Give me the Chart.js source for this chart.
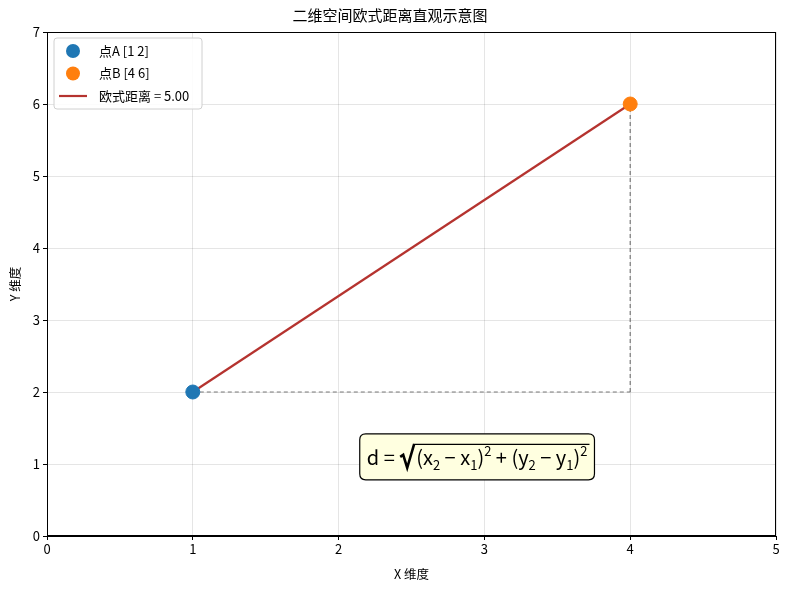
<!DOCTYPE html>
<html>
<head>
<meta charset="utf-8">
<script src="https://cdn.jsdelivr.net/npm/chart.js@4.4.0/dist/chart.umd.min.js"></script>
<style>
  html,body{margin:0;padding:0;background:#fff;}
  #wrap{width:790px;height:590px;}
</style>
</head>
<body>
<div id="wrap"><canvas id="c" width="790" height="590"></canvas></div>
<script>
// data
const pointA=[1,2];
const pointB=[4,6];
const distLabel='欧式距离 = 5.00';
const xTicks=[0,1,2,3,4,5];
const yTicks=[0,1,2,3,4,5,6,7];
const formulaAt=[2.95,1.1];

const FONT='"Noto Sans CJK SC","Noto Sans",sans-serif';
Chart.defaults.font.family=FONT;
Chart.defaults.color='#000';

// frame, legend and formula box
const extras={
  id:'extras',
  afterDraw(chart){
    const {ctx,chartArea:a,scales:{x,y}}=chart;
    ctx.save();
    ctx.strokeStyle='#000'; ctx.lineWidth=1;
    ctx.strokeRect(a.left+0.5,a.top+0.5,a.right-a.left-1,a.bottom-a.top-1);

    // legend
    const lx=a.left+7, ly=a.top+6, lw=148, lh=71;
    roundRect(ctx,lx,ly,lw,lh,3);
    ctx.fillStyle='rgba(255,255,255,0.85)'; ctx.fill();
    ctx.strokeStyle='#d0d0d0'; ctx.stroke();
    const items=chart.data.datasets.filter(d=>d.legend).sort((p,q)=>p.legend-q.legend);
    ctx.font='13px '+FONT; ctx.textBaseline='middle'; ctx.textAlign='left';
    items.forEach((d,i)=>{
      const cy=ly+13+i*22.5, cx=lx+19;
      if(d.showLine){
        ctx.strokeStyle=d.borderColor; ctx.lineWidth=2.2;
        ctx.beginPath(); ctx.moveTo(lx+5,cy); ctx.lineTo(lx+33,cy); ctx.stroke();
      }else{
        ctx.fillStyle=d.backgroundColor;
        ctx.beginPath(); ctx.arc(cx,cy,7,0,Math.PI*2); ctx.fill();
      }
      ctx.fillStyle='#000'; ctx.fillText(d.label,lx+45,cy);
    });

    // formula
    const fx=x.getPixelForValue(formulaAt[0]), fy=y.getPixelForValue(formulaAt[1]);
    const big='20px '+FONT, small='13px '+FONT;
    const parts=[['d',big,0],[' = ',big,0],['RAD',big,0],['(x',big,0],['2',small,5],[' − x',big,0],['1',small,5],[')',big,0],['2',small,-9],[' + (y',big,0],['2',small,5],[' − y',big,0],['1',small,5],[')',big,0],['2',small,-9]];
    let w=0;
    parts.forEach(p=>{ if(p[0]==='RAD'){p.w=17;} else {ctx.font=p[1]; p.w=ctx.measureText(p[0]).width;} w+=p.w; });
    const bw=w+14, bh=46;
    roundRect(ctx,fx-bw/2,fy-bh/2,bw,bh,6);
    ctx.fillStyle='#ffffe0'; ctx.fill();
    ctx.strokeStyle='#000'; ctx.lineWidth=1.2; ctx.stroke();
    let px=fx-w/2; const base=fy+8;
    ctx.textBaseline='alphabetic'; ctx.fillStyle='#000';
    parts.forEach(p=>{
      if(p[0]==='RAD'){
        ctx.lineWidth=2.6; ctx.lineJoin='miter';
        ctx.beginPath();
        ctx.moveTo(px+1,base-8); ctx.lineTo(px+4,base-10); ctx.lineTo(px+8,base+3); ctx.lineTo(px+15,base-21);
        ctx.stroke();
        ctx.lineWidth=1.2;
        ctx.beginPath(); ctx.moveTo(px+15,base-20.5); ctx.lineTo(fx+w/2+2,base-20.5); ctx.stroke();
      }else{
        ctx.font=p[1]; ctx.fillText(p[0],px,base+p[2]);
      }
      px+=p.w;
    });
    ctx.restore();
  }
};
function roundRect(ctx,x,y,w,h,r){
  ctx.beginPath();
  ctx.moveTo(x+r,y); ctx.lineTo(x+w-r,y); ctx.quadraticCurveTo(x+w,y,x+w,y+r);
  ctx.lineTo(x+w,y+h-r); ctx.quadraticCurveTo(x+w,y+h,x+w-r,y+h);
  ctx.lineTo(x+r,y+h); ctx.quadraticCurveTo(x,y+h,x,y+h-r);
  ctx.lineTo(x,y+r); ctx.quadraticCurveTo(x,y,x+r,y); ctx.closePath();
}

const dash={borderColor:'rgba(80,80,80,0.75)',borderWidth:1.2,borderDash:[4,3],showLine:true,pointRadius:0,fill:false};
new Chart(document.getElementById('c'),{
  type:'scatter',
  data:{datasets:[
    {label:'h',data:[{x:pointA[0],y:pointA[1]},{x:pointB[0],y:pointA[1]}],...dash,order:5},
    {label:'v',data:[{x:pointB[0],y:pointA[1]},{x:pointB[0],y:pointB[1]}],...dash,order:5},
    {label:distLabel,legend:3,data:[{x:pointA[0],y:pointA[1]},{x:pointB[0],y:pointB[1]}],showLine:true,borderColor:'#b5332f',borderWidth:2.2,pointRadius:0,order:3},
    {label:`点A [${pointA.join(' ')}]`,legend:1,data:[{x:pointA[0],y:pointA[1]}],backgroundColor:'#1f77b4',borderColor:'#1f77b4',pointRadius:7,order:1},
    {label:`点B [${pointB.join(' ')}]`,legend:2,data:[{x:pointB[0],y:pointB[1]}],backgroundColor:'#ff7f0e',borderColor:'#ff7f0e',pointRadius:7,order:1}
  ]},
  options:{
    responsive:false,animation:false,
    layout:{padding:{left:4,right:14,top:0,bottom:4}},
    plugins:{
      legend:{display:false},tooltip:{enabled:false},
      title:{display:true,text:'二维空间欧式距离直观示意图',font:{size:15,weight:'normal'},padding:{top:6,bottom:8}}
    },
    scales:{
      x:{type:'linear',min:0,max:5,
        afterBuildTicks(s){s.ticks=xTicks.map(v=>({value:v}));},
        afterFit(s){s.height=50;},
        grid:{color:'rgba(0,0,0,0.1)',tickColor:'#000',tickLength:4},
        border:{color:'#000'},
        ticks:{font:{size:13},padding:1,maxRotation:0},
        title:{display:true,text:'X 维度',font:{size:12.5},padding:{top:2}}},
      y:{type:'linear',min:0,max:7,
        afterBuildTicks(s){s.ticks=yTicks.map(v=>({value:v}));},
        afterFit(s){s.width=43;},
        grid:{color:'rgba(0,0,0,0.1)',tickColor:'#000',tickLength:4},
        border:{color:'#000'},
        ticks:{font:{size:13},padding:3},
        title:{display:true,text:'Y 维度',font:{size:12.5},padding:{bottom:2}}}
    }
  },
  plugins:[extras]
});
</script>
</body>
</html>
